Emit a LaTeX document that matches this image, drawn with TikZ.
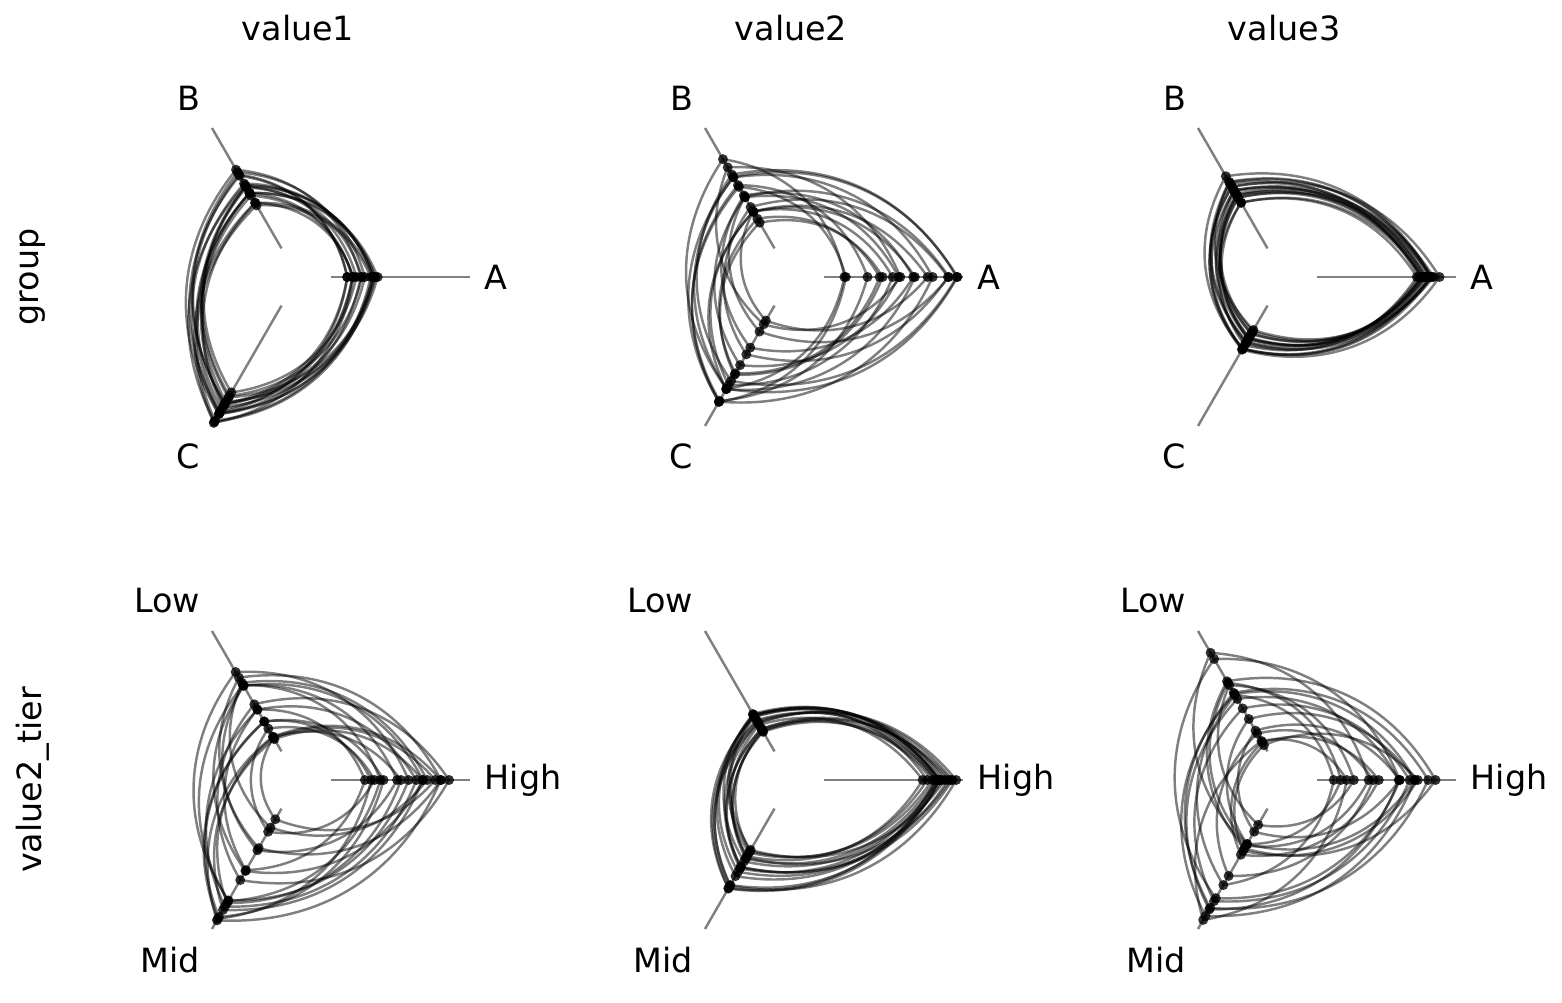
\documentclass[tikz,border=0pt]{standalone}
\usepackage{fontspec}
\setmainfont{DejaVu Sans}
\tikzset{
  axis/.style={gray, line width=1.4pt},
  link/.style={black, opacity=0.5, line width=1.4pt},
  dot/.style={fill=black, opacity=0.8},
  lab/.style={font=\fontsize{19}{22}\selectfont, inner sep=2pt}
}
% one hive panel: radius ranges of the three axes, then the three axis labels
\newcommand\hive[9]{
  \draw[axis] (0:33) -- (0:172);
  \draw[axis] (120:33) -- (120:172);
  \draw[axis] (240:33) -- (240:172);
  \foreach \i in {1,...,16}{
    \pgfmathsetmacro\ra{#1+(#2-#1)*rnd}
    \pgfmathsetmacro\rb{#3+(#4-#3)*rnd}
    \pgfmathsetmacro\rc{#5+(#6-#5)*rnd}
    \draw[link] (0:\ra) to[bend right=35] (120:\rb) to[bend right=35] (240:\rc)
      to[bend right=35] (0:\ra);
    \fill[dot] (0:\ra) circle (5) (120:\rb) circle (5) (240:\rc) circle (5);
  }
  \node[lab, anchor=west] at (0:183) {#7};
  \node[lab, anchor=south east] at (120:188) {#8};
  \node[lab, anchor=north east] at (240:188) {#9};
}
\begin{document}
\begin{tikzpicture}[x=0.02cm, y=0.02cm]
  \useasboundingbox (0,0) rectangle (1562,1002);
  \pgfmathsetseed{4217}
  % column and row titles
  \node[lab] (t1) at (298,974) {value1};
  \node[lab] (t2) at (791,974) {value2};
  \node[lab] (t3) at (1284,974) {value3};
  \node[lab, rotate=90] (r1) at (33,725) {group};
  \node[lab, rotate=90] (r2) at (33,222) {value2\_tier};
  % panels
  \begin{scope}[shift={(298,725)}]
    \hive{40}{80}{80}{125}{130}{172}{A}{B}{C}
  \end{scope}
  \begin{scope}[shift={(791,725)}]
    \hive{50}{168}{52}{150}{50}{145}{A}{B}{C}
  \end{scope}
  \begin{scope}[shift={(1284,725)}]
    \hive{126}{161}{85}{120}{60}{85}{A}{B}{C}
  \end{scope}
  \begin{scope}[shift={(298,222)}]
    \hive{54}{172}{40}{162}{40}{170}{High}{Low}{Mid}
  \end{scope}
  \begin{scope}[shift={(791,222)}]
    \hive{127}{170}{55}{78}{80}{127}{High}{Low}{Mid}
  \end{scope}
  \begin{scope}[shift={(1284,222)}]
    \hive{34}{158}{40}{150}{45}{168}{High}{Low}{Mid}
  \end{scope}
\end{tikzpicture}
\end{document}
